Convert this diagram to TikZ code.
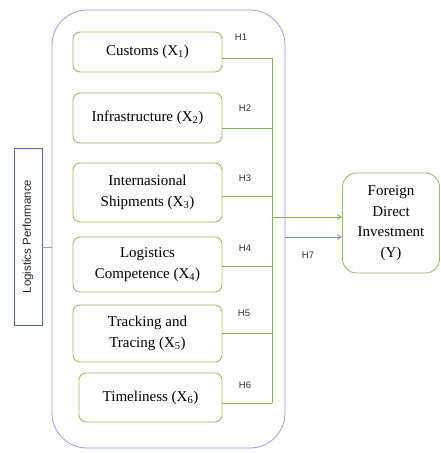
\documentclass[tikz,border=0pt]{standalone}
\usepackage{fontspec}
\setmainfont{Liberation Serif}
\newfontfamily\hfont{Liberation Sans}
\usetikzlibrary{arrows.meta}
\definecolor{gbox}{RGB}{155,185,115}
\definecolor{gline}{RGB}{140,170,90}
\definecolor{bcont}{RGB}{150,160,205}
\definecolor{lbox}{RGB}{90,100,165}
\begin{document}
\begin{tikzpicture}[x=1pt,y=1pt,
  var/.style={draw=gbox, line width=0.9pt, rounded corners=7pt, align=center,
    font=\fontsize{15}{20.5}\selectfont, inner sep=2pt},
  hlab/.style={font=\hfont\fontsize{9.5}{11}\selectfont, inner sep=1pt, text=black!80},
  bus/.style={draw=gline, line width=0.8pt},
  arr/.style={line width=0.8pt, -{Straight Barb[length=4pt,width=5pt]}}]
\useasboundingbox (0,0) rectangle (441,453);
% container
\draw[bcont, line width=0.8pt, rounded corners=35pt] (52,443) rectangle (285,5);
% variable boxes
\node[var, minimum width=149pt, minimum height=40pt] (c1) at (147.5,401) {Customs (X\textsubscript{1})};
\node[var, minimum width=149pt, minimum height=50pt] (c2) at (147.5,335) {Infrastructure (X\textsubscript{2})};
\node[var, minimum width=149pt, minimum height=59pt] (c3) at (147.5,260.5) {Internasional\\Shipments (X\textsubscript{3})};
\node[var, minimum width=149pt, minimum height=55pt] (c4) at (147.5,188.5) {Logistics\\Competence (X\textsubscript{4})};
\node[var, minimum width=149pt, minimum height=57pt] (c5) at (147.5,119.5) {Tracking and\\Tracing (X\textsubscript{5})};
\node[var, minimum width=143pt, minimum height=49pt] (c6) at (150.5,55.5) {Timeliness (X\textsubscript{6})};
% dependent
\node[var, rounded corners=14pt, minimum width=97pt, minimum height=100pt, inner sep=0pt] (fdi) at (391,230) {Foreign\\Direct\\Investment\\(Y)};
% left label
\node[draw=lbox, line width=0.8pt, minimum width=28pt, minimum height=177pt, inner sep=0pt] (lp) at (28,216.5) {};
\node[rotate=90, font=\hfont\fontsize{11.5}{12}\selectfont, text=black!85] (lpt) at (lp.center) {Logistics Performance};
\coordinate (cl) at (52,206);
\draw[bcont, line width=0.6pt] (lp.east |- cl) -- (cl);
% bus
\coordinate (b1) at (272,395);
\coordinate (b2) at (272,325);
\coordinate (b3) at (272,257);
\coordinate (b4) at (272,187);
\coordinate (b5) at (272,120);
\coordinate (b6) at (272,50);
\draw[bus] (b1) -- (b6);
\foreach \i in {1,...,6} { \draw[bus] (b\i -| c\i.east) -- (b\i); }
% arrows
\coordinate (ga) at (272,236);
\coordinate (ba) at (285,216);
\draw[arr, gline] (ga) -- (ga -| fdi.west);
\draw[arr, bcont!90!black] (ba) -- (ba -| fdi.west);
% labels
\node[hlab] (h1) at (241,416) {H1};
\node[hlab] (h2) at (245,345) {H2};
\node[hlab] (h3) at (245,275) {H3};
\node[hlab] (h4) at (245,205) {H4};
\node[hlab] (h5) at (244,140) {H5};
\node[hlab] (h6) at (245,68) {H6};
\node[hlab] (h7) at (308,198) {H7};
\end{tikzpicture}
\end{document}
